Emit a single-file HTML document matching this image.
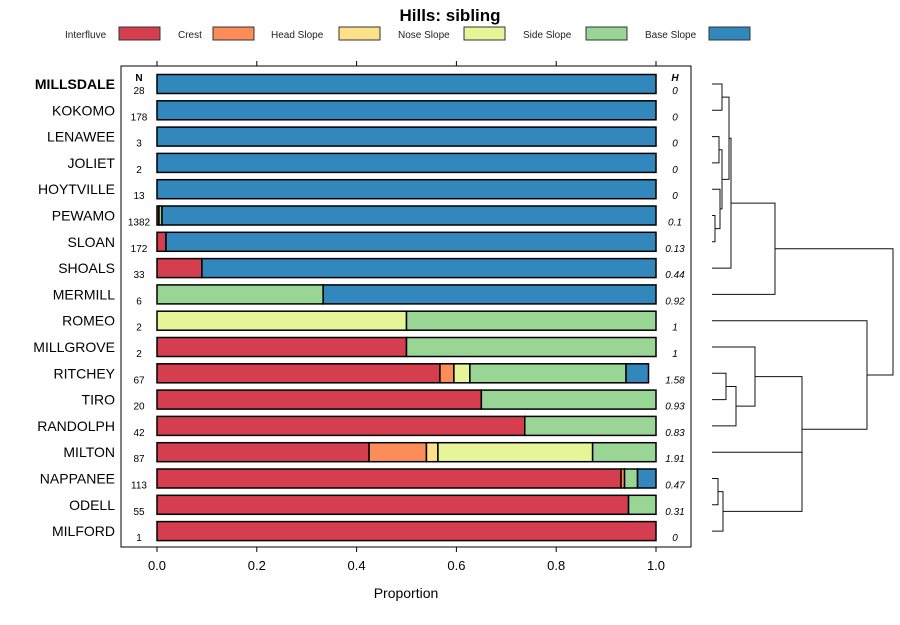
<!DOCTYPE html>
<html><head><meta charset="utf-8"><style>
body{margin:0;background:#fff;font-family:"Liberation Sans",sans-serif}
</style></head><body>
<svg id="c" width="900" height="620" xmlns="http://www.w3.org/2000/svg" font-family="Liberation Sans, sans-serif">
<text x="450" y="21" text-anchor="middle" font-size="17" font-weight="bold">Hills: sibling</text>
<g id="legend"></g>
<rect x="121" y="66" width="570" height="481" fill="none" stroke="#000" stroke-width="1"/>
<g id="axes"></g><g id="bars"></g><g id="dend"></g>
<text x="139" y="81" text-anchor="middle" font-size="10" font-weight="bold">N</text>
<text x="675" y="81" text-anchor="middle" font-size="10" font-weight="bold" font-style="italic">H</text>
<text x="406" y="598" text-anchor="middle" font-size="14">Proportion</text>
</svg>
<script>
const classes=["Interfluve","Crest","Head Slope","Nose Slope","Side Slope","Base Slope"];
const colors=["#D53E4F","#FC8D59","#FEE08B","#E6F598","#99D594","#3288BD"];
const soils=["MILLSDALE","KOKOMO","LENAWEE","JOLIET","HOYTVILLE","PEWAMO","SLOAN","SHOALS","MERMILL","ROMEO","MILLGROVE","RITCHEY","TIRO","RANDOLPH","MILTON","NAPPANEE","ODELL","MILFORD"];
const counts=[28,178,3,2,13,1382,172,33,6,2,2,67,20,42,87,113,55,1];
const entropy=["0","0","0","0","0","0.1","0.13","0.44","0.92","1","1","1.58","0.93","0.83","1.91","0.47","0.31","0"];
const interfluve=[0,0,0,0,0,0.004,0.018,0.09,0,0,0.5,0.567,0.65,0.737,0.425,0.93,0.945,1];
const crest=[0,0,0,0,0,0,0,0,0,0,0,0.028,0,0,0.115,0.007,0,0];
const headSlope=[0,0,0,0,0,0,0,0,0,0,0,0,0,0,0.023,0,0,0];
const noseSlope=[0,0,0,0,0,0,0,0,0,0.5,0,0.032,0,0,0.31,0,0,0];
const sideSlope=[0,0,0,0,0,0.006,0,0,0.333,0.5,0.5,0.313,0.35,0.263,0.127,0.026,0.055,0];
const baseSlope=[1,1,1,1,1,0.99,0.982,0.91,0.667,0,0,0.045,0,0,0,0.037,0,0];
const xTicks=[0,0.2,0.4,0.6,0.8,1.0];
const NS="http://www.w3.org/2000/svg";
function mk(t,a,p){const e=document.createElementNS(NS,t);for(const k in a)e.setAttribute(k,a[k]);p.appendChild(e);return e;}
const X=v=>157+v*499, Y=i=>84+i*26.3;
const lg=document.getElementById('legend');
const lgText=[65,178,271,398,523,645],lgBox=[119,213,339,464,586,709];
classes.forEach((c,i)=>{
 const t=mk('text',{x:lgText[i],y:38,'font-size':10,fill:'#222'},lg);t.textContent=c;
 
 
 const r=mk('rect',{x:lgBox[i],y:27,width:41,height:13,fill:colors[i],stroke:'#333','stroke-width':1},lg);
 
 
});
const ax=document.getElementById('axes');
xTicks.forEach(v=>{
 mk('line',{x1:X(v),x2:X(v),y1:61,y2:66,stroke:'#000'},ax);
 mk('line',{x1:X(v),x2:X(v),y1:547,y2:552,stroke:'#000'},ax);
 const t=mk('text',{x:X(v),y:570,'text-anchor':'middle','font-size':13},ax);t.textContent=v.toFixed(1);
 
 
});
const series=[interfluve,crest,headSlope,noseSlope,sideSlope,baseSlope];
const bg=document.getElementById('bars');
soils.forEach((s,i)=>{
 const y=Y(i);
 const l=mk('text',{x:115,y:y+5,'text-anchor':'end','font-size':14,'font-weight':i==0?'bold':'normal'},bg);l.textContent=s;
 
 
 const n=mk('text',{x:139,y:y+10,'text-anchor':'middle','font-size':10},bg);n.textContent=counts[i];
 
 
 const h=mk('text',{x:675,y:y+10,'text-anchor':'middle','font-size':10,'font-style':'italic'},bg);h.textContent=entropy[i];
 
 
 let cum=0;
 series.forEach((sr,k)=>{
  const v=sr[i]; if(v<=0)return;
  const r=mk('rect',{x:X(cum),y:y-9.5,width:v*499,height:19,fill:colors[k],stroke:'#000','stroke-width':1.5},bg);
  
  
  cum+=v;
 });
});
// dendrogram: [left,right,height(px x)]; leaves are indices
const tree=[[[[[0,1,722],[[2,3,719],[4,[5,6,715],720],722],729],7,731],8,775],[9,[[10,[[11,12,726],13,736],755],[14,[[15,16,718],17,723],802],802],867],893];
const dg=document.getElementById('dend');
function draw(n){
 if(typeof n==='number')return{x:712,y:Y(n)};
 const a=draw(n[0]),b=draw(n[1]),x=n[2];
 mk('path',{d:`M${a.x},${a.y}H${x}V${b.y}H${b.x}`,fill:'none',stroke:'#111','stroke-width':1},dg);
 return{x:x,y:(a.y+b.y)/2};
}
draw(tree);
</script>
</body></html>
